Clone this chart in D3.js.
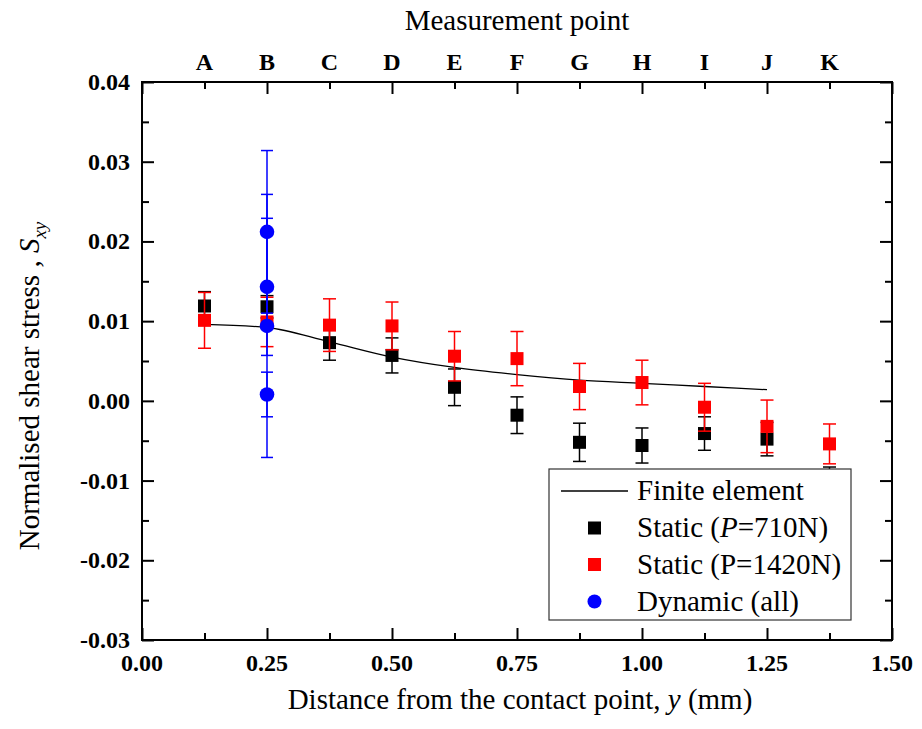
<!DOCTYPE html>
<html><head><meta charset="utf-8">
<script src="https://cdn.jsdelivr.net/npm/d3@7"></script>
<style>
html,body{margin:0;padding:0;background:#fff;}
svg text{font-family:"Liberation Serif","Times New Roman",serif;}
</style>
</head><body>
<svg id="chart" width="922" height="729"></svg>
<script>
// ---- data ----
const distances = [0.125,0.25,0.375,0.5,0.625,0.75,0.875,1.0,1.125,1.25,1.375];
const pointLabels = ["A","B","C","D","E","F","G","H","I","J","K"];
const static710 = [0.0119,0.0118,0.0073,0.0057,0.0017,-0.0018,-0.0052,-0.0056,-0.0041,-0.0048,-0.0105];
const static710Err = [0.0018,0.0014,0.0022,0.0022,0.0023,0.0023,0.0024,0.0022,0.0021,0.0021,0.0022];
const static1420 = [0.0101,0.0099,0.0095,0.0094,0.0056,0.0053,0.0018,0.0023,-0.0008,-0.0032,-0.0054];
const static1420Err = [0.0035,0.0031,0.0033,0.0030,0.0031,0.0034,0.0029,0.0028,0.0030,0.0033,0.0025];
const feDistances = [0.125,0.25,0.375,0.5,0.625,0.75,0.875,1.0,1.125,1.25];
const feValues = [0.0096,0.0092,0.0074,0.0055,0.0042,0.0033,0.0026,0.0022,0.0018,0.0014];
const dynamicDistances = [0.25,0.25,0.25,0.25];
const dynamicValues = [0.0212,0.0143,0.0094,0.0008];
const dynamicErr = [0.0102,0.0086,0.0165,0.0028];
const xMajorTicks = [0,0.25,0.5,0.75,1.0,1.25,1.5];
const xMinorTicks = [0.125,0.375,0.625,0.875,1.125,1.375];
const yMajorTicks = [-0.03,-0.02,-0.01,0,0.01,0.02,0.03,0.04];
const yMinorTicks = [-0.025,-0.015,-0.005,0.005,0.015,0.025,0.035];
const legendItems = ["Finite element","Static (P=710N)","Static (P=1420N)","Dynamic (all)"];

// ---- layout ----
const L = 142, R = 892, T = 82, B = 640;
const svg = d3.select("#chart");
const x = d3.scaleLinear().domain([0,1.5]).range([L,R]);
const y = d3.scaleLinear().domain([-0.03,0.04]).range([B,T]);
const fmt = d => d3.format(".2f")(d).replace("\u2212","-");

// ticks (inward)
function tickAxis(axisFn, scale, vals, size, transform){
  const g = svg.append("g").attr("transform", transform)
    .call(axisFn(scale).tickValues(vals).tickSize(size).tickFormat(""));
  g.select(".domain").remove();
  g.selectAll(".tick line").attr("stroke","#000").attr("stroke-width",2);
  return g;
}
tickAxis(d3.axisBottom, x, xMajorTicks, -12, `translate(0,${B})`);
tickAxis(d3.axisBottom, x, xMinorTicks, -7, `translate(0,${B})`);
tickAxis(d3.axisTop, x, xMajorTicks, -12, `translate(0,${T})`);
tickAxis(d3.axisTop, x, xMinorTicks, -7, `translate(0,${T})`);
tickAxis(d3.axisLeft, y, yMajorTicks, -12, `translate(${L},0)`);
tickAxis(d3.axisLeft, y, yMinorTicks, -7, `translate(${L},0)`);
tickAxis(d3.axisRight, y, yMajorTicks, -12, `translate(${R},0)`);
tickAxis(d3.axisRight, y, yMinorTicks, -7, `translate(${R},0)`);

// tick labels
svg.append("g").selectAll("text").data(xMajorTicks).join("text")
  .attr("x", d=>x(d)).attr("y", 671).attr("text-anchor","middle")
  .attr("font-size",24).attr("font-weight","bold").text(fmt);
svg.append("g").selectAll("text").data(yMajorTicks).join("text")
  .attr("x", 130).attr("y", d=>y(d)+8).attr("text-anchor","end")
  .attr("font-size",24).attr("font-weight","bold").text(fmt);
svg.append("g").selectAll("text").data(distances).join("text")
  .attr("x", d=>x(d)).attr("y", 70).attr("text-anchor","middle")
  .attr("font-size",24).attr("font-weight","bold").text((d,i)=>pointLabels[i]);

// axis titles
const xt = svg.append("text").attr("x",520).attr("y",709).attr("text-anchor","middle").attr("font-size",29);
xt.append("tspan").text("Distance from the contact point, ");
xt.append("tspan").attr("font-style","italic").text("y");
xt.append("tspan").text(" (mm)");
svg.append("text").attr("x",517).attr("y",30).attr("text-anchor","middle").attr("font-size",29).text("Measurement point");
const yt = svg.append("text").attr("transform","translate(39,386) rotate(-90)").attr("text-anchor","middle").attr("font-size",29);
yt.append("tspan").text("Normalised shear stress , ");
yt.append("tspan").attr("font-style","italic").text("S");
yt.append("tspan").attr("font-style","italic").attr("font-size",19).attr("dy",7).text("xy");

// plot content
const plot = svg.append("g");
plot.append("path").datum(feDistances.map((d,i)=>[d,feValues[i]]))
  .attr("fill","none").attr("stroke","#000").attr("stroke-width",1.3)
  .attr("d", d3.line().curve(d3.curveMonotoneX).x(d=>x(d[0])).y(d=>y(d[1])));

function errorBars(xs, vs, es, color, cap){
  const g = plot.append("g").attr("stroke",color).attr("stroke-width",1.5);
  xs.forEach((d,i)=>{
    const cx = x(d), y1 = y(vs[i]+es[i]), y2 = y(vs[i]-es[i]);
    g.append("line").attr("x1",cx).attr("x2",cx).attr("y1",y1).attr("y2",y2);
    g.append("line").attr("x1",cx-cap/2).attr("x2",cx+cap/2).attr("y1",y1).attr("y2",y1);
    g.append("line").attr("x1",cx-cap/2).attr("x2",cx+cap/2).attr("y1",y2).attr("y2",y2);
  });
}
const sq = 13;
errorBars(distances, static710, static710Err, "#000", 13);
plot.append("g").selectAll("rect").data(distances).join("rect")
  .attr("x", d=>x(d)-sq/2).attr("y",(d,i)=>y(static710[i])-sq/2)
  .attr("width",sq).attr("height",sq).attr("fill","#000");
errorBars(distances, static1420, static1420Err, "#ff0000", 13);
plot.append("g").selectAll("rect").data(distances).join("rect")
  .attr("x", d=>x(d)-sq/2).attr("y",(d,i)=>y(static1420[i])-sq/2)
  .attr("width",sq).attr("height",sq).attr("fill","#ff0000");
errorBars(dynamicDistances, dynamicValues, dynamicErr, "#0000ff", 12);
plot.append("g").selectAll("circle").data(dynamicDistances).join("circle")
  .attr("cx", d=>x(d)).attr("cy",(d,i)=>y(dynamicValues[i])).attr("r",7.3).attr("fill","#0000ff");

// frame
svg.append("rect").attr("x",L).attr("y",T).attr("width",R-L).attr("height",B-T)
  .attr("fill","none").attr("stroke","#000").attr("stroke-width",2);

// legend
const lg = svg.append("g");
lg.append("rect").attr("x",549).attr("y",469).attr("width",302).attr("height",151)
  .attr("fill","#fff").attr("stroke","#333").attr("stroke-width",1.2);
const rowY = [491,528,564.5,601.5];
lg.append("line").attr("x1",561).attr("x2",628).attr("y1",rowY[0]).attr("y2",rowY[0]).attr("stroke","#000").attr("stroke-width",1.3);
lg.append("rect").attr("x",594.5-6.5).attr("y",rowY[1]-6.5).attr("width",13).attr("height",13).attr("fill","#000");
lg.append("rect").attr("x",594.5-6.5).attr("y",rowY[2]-6.5).attr("width",13).attr("height",13).attr("fill","#ff0000");
lg.append("circle").attr("cx",594.5).attr("cy",rowY[3]).attr("r",7).attr("fill","#0000ff");
legendItems.forEach((t,i)=>{
  const tx = lg.append("text").attr("x",637).attr("y",rowY[i]+9).attr("font-size",29);
  if(i===1){
    tx.append("tspan").text("Static (");
    tx.append("tspan").attr("font-style","italic").text("P");
    tx.append("tspan").text("=710N)");
  } else tx.text(t);
});
</script>
</body></html>
